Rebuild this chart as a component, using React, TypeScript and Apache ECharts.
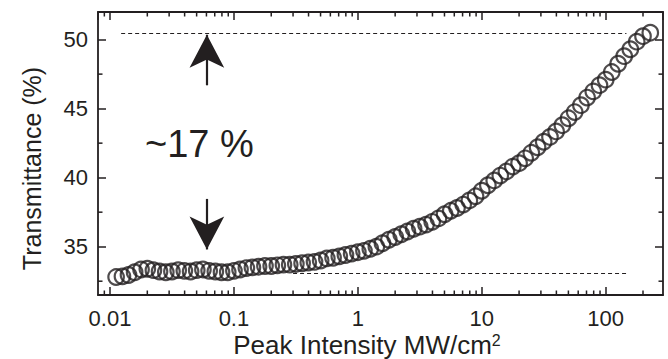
import React, { useEffect, useRef } from "react";
import * as echarts from "echarts";

// ---------- data ----------
const intensity = [
  0.0112, 0.0126, 0.0141, 0.0158, 0.0178, 0.02, 0.0224, 0.0251, 0.0282, 0.0316,
  0.0355, 0.0398, 0.0447, 0.0501, 0.0562, 0.0631, 0.0708, 0.0794, 0.0891, 0.1,
  0.112, 0.126, 0.141, 0.158, 0.178, 0.2, 0.224, 0.251, 0.282, 0.316,
  0.355, 0.398, 0.447, 0.501, 0.562, 0.631, 0.708, 0.794, 0.891, 1.0,
  1.12, 1.26, 1.41, 1.58, 1.78, 2.0, 2.24, 2.51, 2.82, 3.16,
  3.55, 3.98, 4.47, 5.01, 5.62, 6.31, 7.08, 7.94, 8.91, 10.0,
  11.2, 12.6, 14.1, 15.8, 17.8, 20.0, 22.4, 25.1, 28.2, 31.6,
  35.5, 39.8, 44.7, 50.1, 56.2, 63.1, 70.8, 79.4, 89.1, 100,
  112, 126, 141, 158, 178, 200, 229,
];
const transmittance = [
  32.8, 32.85, 32.95, 33.15, 33.35, 33.4, 33.3, 33.2, 33.15, 33.2,
  33.3, 33.25, 33.2, 33.3, 33.35, 33.25, 33.2, 33.15, 33.15, 33.25,
  33.35, 33.45, 33.5, 33.55, 33.6, 33.6, 33.65, 33.7, 33.7, 33.75,
  33.8, 33.85, 33.9, 34.0, 34.15, 34.2, 34.3, 34.4, 34.5, 34.6,
  34.7, 34.85, 35.0, 35.25, 35.5, 35.7, 35.9, 36.1, 36.3, 36.45,
  36.6, 36.8, 37.05, 37.35, 37.6, 37.8, 38.05, 38.35, 38.65, 39.05,
  39.45, 39.8, 40.15, 40.45, 40.8, 41.05, 41.4, 41.8, 42.2, 42.6,
  42.95, 43.35, 43.8, 44.3, 44.75, 45.25, 45.8, 46.25, 46.7, 47.1,
  47.65, 48.25, 48.8, 49.3, 49.85, 50.25, 50.5,
];

const xTickLabels = ["0.01", "0.1", "1", "10", "100"];
const yTickLabels = ["35", "40", "45", "50"];
const xMinorTicks = [
  0.009,
  0.02, 0.03, 0.04, 0.05, 0.06, 0.07, 0.08, 0.09,
  0.2, 0.3, 0.4, 0.5, 0.6, 0.7, 0.8, 0.9,
  2, 3, 4, 5, 6, 7, 8, 9,
  20, 30, 40, 50, 60, 70, 80, 90,
  200,
];
const yMinorTicks = [32.5, 37.5, 42.5, 47.5];

// reference levels (dashed) and annotation arrows
const upperLevel = [0.0123, 147, 50.45]; // [from x, to x, y]
const lowerLevel = [0.3, 147, 33.07];
const arrowX = 0.0605;
const upArrow = [46.69, 50.35]; // [tail y, tip y]
const downArrow = [38.46, 34.8];
const annotationText = "~17 %";

const X_MIN = 0.008;
const X_MAX = 290;
const Y_MIN = 31.5;
const Y_MAX = 52;

const INK = "#231f20";
const FONT = "'Liberation Sans', Arial, Helvetica, sans-serif";

function fmtX(v: number) {
  const e = Math.round(Math.log10(v));
  const s = e < 0 ? v.toFixed(-e) : String(Math.round(v));
  return xTickLabels.includes(s) ? s : "";
}
function fmtY(v: number) {
  const s = String(Math.round(v));
  return yTickLabels.includes(s) && Math.abs(v - Math.round(v)) < 1e-6 ? s : "";
}

export default function App() {
  const ref = useRef<HTMLDivElement>(null);

  useEffect(() => {
    if (!ref.current) return;
    const chart = echarts.init(ref.current, undefined, { renderer: "svg" });

    const axisLine = { show: true, lineStyle: { color: INK, width: 1.8 } };
    const majorTick = { show: true, inside: true, length: 8, lineStyle: { color: INK, width: 1.5 } };

    const xCommon = {
      type: "log" as const,
      logBase: 10,
      min: X_MIN,
      max: X_MAX,
      axisLine,
      axisTick: majorTick,
      splitLine: { show: false },
      minorTick: { show: false },
    };
    const yCommon = {
      type: "value" as const,
      min: Y_MIN,
      max: Y_MAX,
      splitNumber: 4,
      axisLine,
      axisTick: majorTick,
      splitLine: { show: false },
    };

    const tickStyle = { stroke: INK, lineWidth: 1.5 };
    const MINOR = 4.5;

    chart.setOption({
      animation: false,
      backgroundColor: "#fff",
      grid: { left: 98, right: 5, top: 12, bottom: 64, containLabel: false, outerBoundsMode: "none" },
      xAxis: [
        {
          ...xCommon,
          position: "bottom",
          axisLabel: {
            show: true,
            margin: 12,
            fontSize: 22,
            color: INK,
            fontFamily: FONT,
            showMinLabel: false,
            showMaxLabel: false,
            formatter: fmtX,
          },
          name: "Peak Intensity MW/cm{sup|2}",
          nameLocation: "middle",
          nameGap: 37,
          nameMoveOverlap: false,
          nameTextStyle: {
            fontSize: 26,
            lineHeight: 26,
            color: INK,
            fontFamily: FONT,
            padding: [0, 27, 0, 0],
            rich: {
              sup: { fontSize: 16, lineHeight: 16, color: INK, fontFamily: FONT, verticalAlign: "top" },
            },
          },
        },
        { ...xCommon, position: "top", axisLabel: { show: false } },
      ],
      yAxis: [
        {
          ...yCommon,
          position: "left",
          axisLabel: {
            show: true,
            margin: 10,
            fontSize: 22,
            color: INK,
            fontFamily: FONT,
            showMinLabel: false,
            showMaxLabel: false,
            formatter: fmtY,
          },
          name: "Transmittance (%)",
          nameLocation: "middle",
          nameGap: 54,
          nameMoveOverlap: false,
          nameTextStyle: {
            fontSize: 25,
            color: INK,
            fontFamily: FONT,
            padding: [0, 30, 0, 0],
          },
        },
        { ...yCommon, position: "right", axisLabel: { show: false } },
      ],
      graphic: [
        {
          type: "text",
          left: 145,
          top: 125,
          silent: true,
          style: {
            text: annotationText,
            fontSize: 38,
            fill: INK,
            fontFamily: FONT,
          },
        },
      ],
      series: [
        {
          type: "scatter",
          xAxisIndex: 0,
          yAxisIndex: 0,
          data: intensity.map((x, i) => [x, transmittance[i]]),
          symbol: "circle",
          symbolSize: 15.5,
          itemStyle: { color: "rgba(0,0,0,0)", borderColor: INK, borderWidth: 2.2 },
          z: 3,
          silent: true,
          markLine: {
            silent: true,
            symbol: ["none", "none"],
            label: { show: false },
            lineStyle: { color: INK, width: 1, type: [4, 3] },
            data: [
              [{ coord: [upperLevel[0], upperLevel[2]] }, { coord: [upperLevel[1], upperLevel[2]] }],
              [{ coord: [lowerLevel[0], lowerLevel[2]] }, { coord: [lowerLevel[1], lowerLevel[2]] }],
            ],
          },
        },
        {
          type: "scatter",
          xAxisIndex: 0,
          yAxisIndex: 0,
          data: [],
          markLine: {
            silent: true,
            symbol: ["none", "arrow"],
            symbolSize: [26, 33],
            label: { show: false },
            lineStyle: { color: INK, width: 2.2, type: "solid" },
            itemStyle: { color: INK },
            data: [
              [{ coord: [arrowX, upArrow[0]] }, { coord: [arrowX, upArrow[1]] }],
              [{ coord: [arrowX, downArrow[0]] }, { coord: [arrowX, downArrow[1]] }],
            ],
          },
        },
        {
          type: "custom",
          xAxisIndex: 0,
          yAxisIndex: 0,
          silent: true,
          clip: false,
          z: 4,
          data: xMinorTicks.map((v) => [v, Y_MIN]),
          encode: { x: 0, y: 1 },
          renderItem: (_p: any, api: any) => {
            const x = api.value(0);
            const b = api.coord([x, Y_MIN]);
            const t = api.coord([x, Y_MAX]);
            return {
              type: "group",
              children: [
                { type: "line", shape: { x1: b[0], y1: b[1], x2: b[0], y2: b[1] - MINOR }, style: tickStyle },
                { type: "line", shape: { x1: t[0], y1: t[1], x2: t[0], y2: t[1] + MINOR }, style: tickStyle },
              ],
            };
          },
        },
        {
          type: "custom",
          xAxisIndex: 0,
          yAxisIndex: 0,
          silent: true,
          clip: false,
          z: 4,
          data: yMinorTicks.map((v) => [X_MIN, v]),
          encode: { x: 0, y: 1 },
          renderItem: (_p: any, api: any) => {
            const y = api.value(1);
            const l = api.coord([X_MIN, y]);
            const r = api.coord([X_MAX, y]);
            return {
              type: "group",
              children: [
                { type: "line", shape: { x1: l[0], y1: l[1], x2: l[0] + MINOR, y2: l[1] }, style: tickStyle },
                { type: "line", shape: { x1: r[0], y1: r[1], x2: r[0] - MINOR, y2: r[1] }, style: tickStyle },
              ],
            };
          },
        },
      ],
    });

    return () => chart.dispose();
  }, []);

  return (
    <div
      ref={ref}
      style={{ position: "fixed", left: 0, top: 0, width: 668, height: 359, background: "#fff" }}
    />
  );
}
